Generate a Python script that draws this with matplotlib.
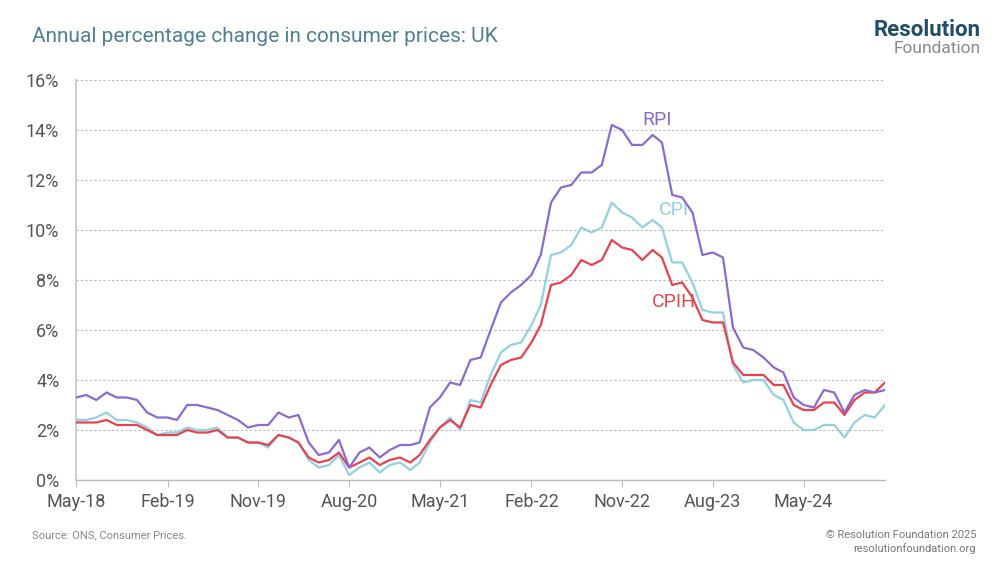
import matplotlib
matplotlib.use("Agg")
import matplotlib.pyplot as plt
import pandas as pd
from matplotlib import font_manager

names = {f.name for f in font_manager.fontManager.ttflist}
FONT = "Liberation Sans Narrow" if "Liberation Sans Narrow" in names else "Roboto"
plt.rcParams['font.family'] = [FONT, 'DejaVu Sans']

start = "2018-05-01"
end = "2025-01-01"

rpi = [3.3, 3.4, 3.2, 3.5, 3.3, 3.3, 3.2, 2.7,
       2.5, 2.5, 2.4, 3.0, 3.0, 2.9, 2.8, 2.6, 2.4, 2.1, 2.2, 2.2,
       2.7, 2.5, 2.6, 1.5, 1.0, 1.1, 1.6, 0.5, 1.1, 1.3, 0.9, 1.2,
       1.4, 1.4, 1.5, 2.9, 3.3, 3.9, 3.8, 4.8, 4.9, 6.0, 7.1, 7.5,
       7.8, 8.2, 9.0, 11.1, 11.7, 11.8, 12.3, 12.3, 12.6, 14.2, 14.0, 13.4,
       13.4, 13.8, 13.5, 11.4, 11.3, 10.7, 9.0, 9.1, 8.9, 6.1, 5.3, 5.2,
       4.9, 4.5, 4.3, 3.3, 3.0, 2.9, 3.6, 3.5, 2.7, 3.4, 3.6, 3.5,
       3.6]
cpi = [2.4, 2.4, 2.5, 2.7, 2.4, 2.4, 2.3, 2.1,
       1.8, 1.9, 1.9, 2.1, 2.0, 2.0, 2.1, 1.7, 1.7, 1.5, 1.5, 1.3,
       1.8, 1.7, 1.5, 0.8, 0.5, 0.6, 1.0, 0.2, 0.5, 0.7, 0.3, 0.6,
       0.7, 0.4, 0.7, 1.5, 2.1, 2.5, 2.0, 3.2, 3.1, 4.2, 5.1, 5.4,
       5.5, 6.2, 7.0, 9.0, 9.1, 9.4, 10.1, 9.9, 10.1, 11.1, 10.7, 10.5,
       10.1, 10.4, 10.1, 8.7, 8.7, 7.9, 6.8, 6.7, 6.7, 4.6, 3.9, 4.0,
       4.0, 3.4, 3.2, 2.3, 2.0, 2.0, 2.2, 2.2, 1.7, 2.3, 2.6, 2.5,
       3.0]
cpih = [2.3, 2.3, 2.3, 2.4, 2.2, 2.2, 2.2, 2.0,
        1.8, 1.8, 1.8, 2.0, 1.9, 1.9, 2.0, 1.7, 1.7, 1.5, 1.5, 1.4,
        1.8, 1.7, 1.5, 0.9, 0.7, 0.8, 1.1, 0.5, 0.7, 0.9, 0.6, 0.8,
        0.9, 0.7, 1.0, 1.6, 2.1, 2.4, 2.1, 3.0, 2.9, 3.8, 4.6, 4.8,
        4.9, 5.5, 6.2, 7.8, 7.9, 8.2, 8.8, 8.6, 8.8, 9.6, 9.3, 9.2,
        8.8, 9.2, 8.9, 7.8, 7.9, 7.3, 6.4, 6.3, 6.3, 4.7, 4.2, 4.2,
        4.2, 3.8, 3.8, 3.0, 2.8, 2.8, 3.1, 3.1, 2.6, 3.2, 3.5, 3.5,
        3.9]

dates = pd.date_range(start, end, freq="MS")
tick_dates = pd.date_range(start, end, freq="9MS")
tick_labels = [d.strftime("%b-%y") for d in tick_dates]
y_ticks = [0, 2, 4, 6, 8, 10, 12, 14, 16]

C_RPI = "#8B6BD1"
C_CPI = "#92D1E3"
C_CPIH = "#E8434D"
GREY = "#555555"
SPINE = "#cfcfcf"

fig = plt.figure(figsize=(10, 5.63), dpi=100)
ax = fig.add_axes([0.076, 0.1474, 0.809, 0.7106])

ax.plot(dates, cpi, color=C_CPI, lw=1.6, zorder=3)
ax.plot(dates, cpih, color=C_CPIH, lw=1.6, zorder=4)
ax.plot(dates, rpi, color=C_RPI, lw=1.6, zorder=5)

ax.set_xlim(dates[0], dates[-1])
ax.set_ylim(0, 16)
ax.set_yticks(y_ticks)
ax.set_yticklabels([f"{v}%" for v in y_ticks])
ax.set_xticks(tick_dates)
ax.set_xticklabels(tick_labels)

ax.grid(axis='y', color="#b8b8b8", linestyle=(0, (2, 2)), linewidth=0.8)
ax.set_axisbelow(True)
for s in ['top', 'right']:
    ax.spines[s].set_visible(False)
ax.spines['left'].set_color(SPINE)
ax.spines['left'].set_linewidth(1.5)
ax.spines['bottom'].set_color("#bbbbbb")
ax.spines['bottom'].set_linewidth(1.0)
ax.tick_params(axis='y', length=0, pad=12, labelsize=13, labelcolor=GREY)
ax.tick_params(axis='x', length=5, width=0.8, color="#bbbbbb", pad=4,
               labelsize=13, labelcolor=GREY)

ax.text(pd.Timestamp("2023-02-15"), 14.4, "RPI", color=C_RPI, fontsize=14,
        ha="center", va="center")
ax.text(pd.Timestamp("2023-04-05"), 10.8, "CPI", color=C_CPI, fontsize=14,
        ha="center", va="center")
ax.text(pd.Timestamp("2023-04-05"), 7.1, "CPIH", color=C_CPIH, fontsize=14,
        ha="center", va="center")

fig.text(0.032, 0.935, "Annual percentage change in consumer prices: UK",
         color="#4F8196", fontsize=15, va="center", ha="left")
fig.text(0.981, 0.946, "Resolution", color="#1F4E69", fontsize=16,
         fontweight="bold", ha="right", va="center")
fig.text(0.981, 0.914, "Foundation", color="#8a8a8a", fontsize=12.5,
         ha="right", va="center")

fig.text(0.032, 0.05, "Source: ONS, Consumer Prices.", color="#888888",
         fontsize=8, ha="left", va="center")
fig.text(0.976, 0.05, "\u00a9 Resolution Foundation 2025", color="#777777",
         fontsize=8, ha="right", va="center")
fig.text(0.976, 0.025, "resolutionfoundation.org", color="#777777",
         fontsize=8, ha="right", va="center")

fig.savefig("out.png", dpi=100, facecolor="white")
